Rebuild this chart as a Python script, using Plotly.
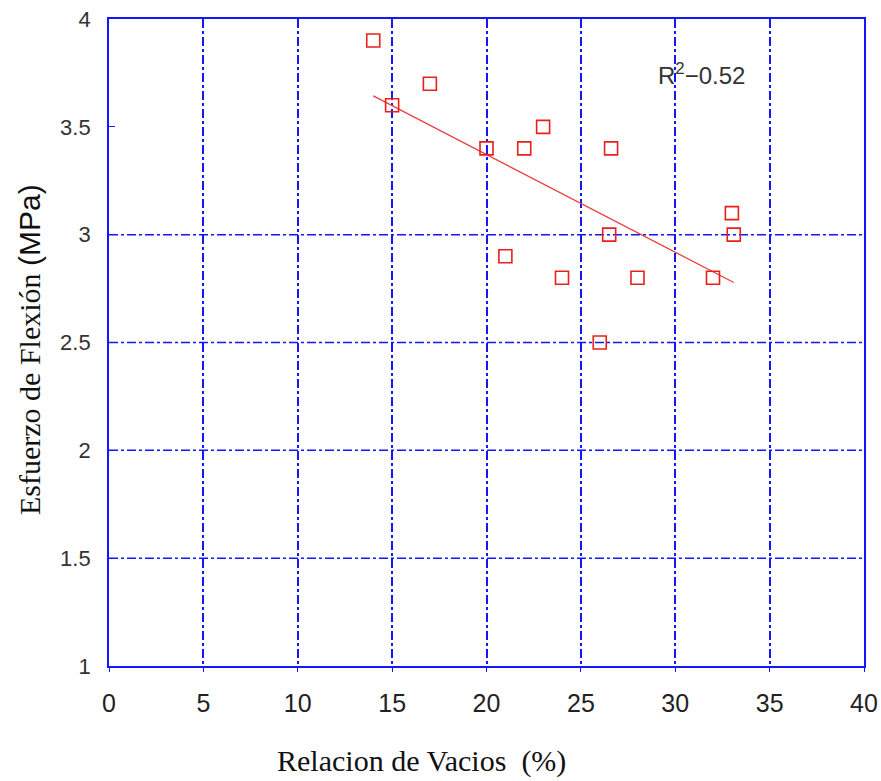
import numpy as np
import plotly.graph_objects as go

# Data
vacios = [14, 15, 17, 20, 21, 22, 23, 24, 26, 26.5, 26.6, 28, 32, 33, 33.1]
esfuerzo = [3.9, 3.6, 3.7, 3.4, 2.9, 3.4, 3.5, 2.8, 2.5, 3.0, 3.4, 2.8, 2.8, 3.1, 3.0]
x_ticks = [0, 5, 10, 15, 20, 25, 30, 35, 40]
y_ticks = [1, 1.5, 2, 2.5, 3, 3.5, 4]
y_tick_text = ["1", "1.5", "2", "2.5", "3", "3.5", "4"]
y_grid = [1.5, 2, 2.5, 3]
r2_label = "R<sup>2</sup>−0.52"
x_title = "Relacion de Vacios  (%)"
y_title = "Esfuerzo de Flexión <span style='font-family:Liberation Sans'>(MPa)</span>"

BLUE = "#1515ff"
RED = "#e8201c"

slope, intercept = np.polyfit(vacios, esfuerzo, 1)
fit_x = np.array([min(vacios), max(vacios)])
fit_y = slope * fit_x + intercept

fig = go.Figure()
fig.add_trace(go.Scatter(x=fit_x, y=fit_y, mode="lines",
                         line=dict(color="#e84040", width=1.3), showlegend=False))
fig.add_trace(go.Scatter(x=vacios, y=esfuerzo, mode="markers",
                         marker=dict(symbol="square-open", size=13,
                                     line=dict(color=RED, width=1.6), color=RED),
                         showlegend=False))

shapes = []
for g in y_grid:
    shapes.append(dict(type="line", xref="paper", x0=0, x1=1, yref="y", y0=g, y1=g,
                       line=dict(color=BLUE, width=1.5, dash="dashdot"), layer="below"))

L, R, T, B = 109, 17, 19, 115
pw = 881 - L - R
ph = 781 - T - B

fig.update_layout(
    width=881, height=781,
    margin=dict(l=L, r=R, t=T, b=B, autoexpand=False),
    paper_bgcolor="white", plot_bgcolor="white",
    shapes=shapes,
    xaxis=dict(range=[0, 40], tickvals=x_ticks, showline=True, linecolor=BLUE,
               linewidth=1.8, mirror=True, showgrid=True, gridcolor=BLUE,
               gridwidth=1.5, griddash="dashdot", ticks="outside", ticklen=4,
               tickcolor=BLUE, zeroline=False, ticklabelstandoff=10, automargin=False,
               tickfont=dict(family="Liberation Sans Narrow, Liberation Sans, Arial", size=25, color="#222")),
    yaxis=dict(range=[1, 4], tickvals=y_ticks, ticktext=y_tick_text, showline=True,
               linecolor=BLUE, linewidth=1.8, mirror=True, showgrid=False,
               ticks="inside", ticklen=6, tickcolor=BLUE, zeroline=False,
               ticklabelstandoff=12, automargin=False,
               tickfont=dict(family="Liberation Sans, Arial", size=22, color="#333")),
    annotations=[
        dict(x=31.4, y=3.745, xref="x", yref="y", text=r2_label, showarrow=False,
             xanchor="center", yanchor="middle",
             font=dict(family="Liberation Sans, Arial", size=24, color="#333")),
        dict(x=(421 - L) / pw, y=(666 - 780) / ph, xref="paper", yref="paper",
             text=x_title, showarrow=False, xanchor="center", yanchor="bottom",
             font=dict(family="Liberation Serif, Times New Roman", size=30, color="#111")),
        dict(x=(30 - L) / pw, y=(666 - 350) / ph, xref="paper", yref="paper",
             text=y_title, showarrow=False, textangle=-90,
             xanchor="center", yanchor="middle",
             font=dict(family="Liberation Serif, Times New Roman", size=30, color="#111")),
    ],
)

fig.write_html("out.html")
